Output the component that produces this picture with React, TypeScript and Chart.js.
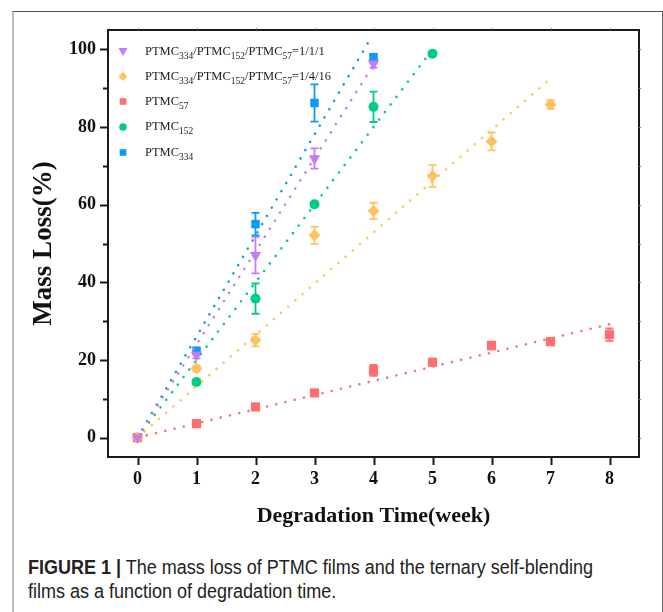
import React, { useEffect, useRef } from "react";
import { Chart, registerables } from "chart.js";

Chart.register(...registerables);

// ---------- data ----------
const weeks = [0, 1, 2, 3, 4, 5, 6, 7, 8];

const seriesNames = [
  "PTMC334/PTMC152/PTMC57=1/1/1",
  "PTMC334/PTMC152/PTMC57=1/4/16",
  "PTMC57",
  "PTMC152",
  "PTMC334",
];

const loss111 = [0, 21.3, 47.0, 71.9, 96.3];
const err111 = [0, 0.9, 4.7, 2.6, 1.0];

const loss1416 = [0, 17.8, 25.1, 52.1, 58.4, 67.4, 76.3, 85.8];
const err1416 = [0, 0.8, 1.6, 2.2, 2.1, 2.8, 2.3, 1.1];

const loss57 = [0, 3.6, 7.9, 11.5, 17.3, 19.4, 23.7, 24.7, 26.5];
const err57 = [0, 0.3, 0.5, 0.5, 1.4, 0.6, 1.0, 0.6, 1.6];

const loss152 = [0, 14.3, 35.8, 60.1, 85.2, 98.9];
const err152 = [0, 0.6, 3.9, 0.6, 3.9, 0.5];

const loss334 = [0, 22.4, 55.0, 86.2, 98.0];
const err334 = [0, 0.5, 2.9, 4.8, 0.7];

// dotted trend lines (start and end)
const fitStartX = [0, 0, 0, 0, 0];
const fitStartY = [0, 0, 0, 0, 0];
const fitEndX = [4, 7, 8, 5, 3.93];
const fitEndY = [96, 92.5, 29.2, 100, 102.3];

const xTicks = [0, 1, 2, 3, 4, 5, 6, 7, 8];
const yTicks = [0, 10, 20, 30, 40, 50, 60, 70, 80, 90, 100];
const yLabelTicks = [0, 20, 40, 60, 80, 100];

// ---------- styles ----------
const colors = ["#C57AF6", "#FFC25E", "#FF6F6F", "#00CC88", "#0A9BF5"];
const pointStyles = ["triangle", "rectRot", "rect", "circle", "rect"];
const pointRotations = [180, 0, 0, 0, 0];
const pointRadii = [6.5, 6, 6.5, 5, 6];

const SERIF = "'Liberation Serif', 'Times New Roman', serif";

const allLoss = [loss111, loss1416, loss57, loss152, loss334];
const allErr = [err111, err1416, err57, err152, err334];

function splitLabel(name: string): [string, boolean][] {
  const parts: [string, boolean][] = [];
  const re = /(PTMC)(\d+)/g;
  let last = 0;
  let m: RegExpExecArray | null;
  while ((m = re.exec(name)) !== null) {
    const before = name.slice(last, m.index) + m[1];
    parts.push([before, false]);
    parts.push([m[2], true]);
    last = m.index + m[0].length;
  }
  if (last < name.length) parts.push([name.slice(last), false]);
  return parts;
}

export default function App() {
  const ref = useRef<HTMLCanvasElement | null>(null);

  useEffect(() => {
    if (!ref.current) return;

    const fitSets = seriesNames.map((n, i) => ({
      label: n + " fit",
      data: [
        { x: fitStartX[i], y: fitStartY[i] },
        { x: fitEndX[i], y: fitEndY[i] },
      ],
      showLine: true,
      borderColor: colors[i],
      borderWidth: 2.6,
      borderDash: [0.01, 9.5],
      borderCapStyle: "round" as const,
      pointRadius: 0,
      fill: false,
    }));

    const pointSets = seriesNames.map((n, i) => ({
      label: n,
      data: allLoss[i].map((v, j) => ({ x: weeks[j], y: v })),
      errs: allErr[i],
      showLine: false,
      backgroundColor: colors[i],
      borderColor: colors[i],
      borderWidth: 0,
      pointStyle: pointStyles[i] as any,
      rotation: pointRotations[i],
      pointRadius: pointRadii[i],
    }));

    const errorBars = {
      id: "errorBars",
      beforeDatasetsDraw(chart: any) {
        const ctx = chart.ctx;
        const xs = chart.scales.x;
        const ys = chart.scales.y;
        ctx.save();
        chart.data.datasets.forEach((ds: any) => {
          if (!ds.errs) return;
          ctx.strokeStyle = ds.borderColor;
          ctx.lineWidth = 1.8;
          ds.data.forEach((p: any, j: number) => {
            const e = ds.errs[j];
            if (!e) return;
            const px = xs.getPixelForValue(p.x);
            const top = ys.getPixelForValue(p.y + e);
            const bot = ys.getPixelForValue(p.y - e);
            ctx.beginPath();
            ctx.moveTo(px, top);
            ctx.lineTo(px, bot);
            ctx.moveTo(px - 4, top);
            ctx.lineTo(px + 4, top);
            ctx.moveTo(px - 4, bot);
            ctx.lineTo(px + 4, bot);
            ctx.stroke();
          });
        });
        ctx.restore();
      },
    };

    const frame = {
      id: "frame",
      afterDraw(chart: any) {
        const ctx = chart.ctx;
        const a = chart.chartArea;
        const xs = chart.scales.x;
        const ys = chart.scales.y;
        ctx.save();
        ctx.strokeStyle = "#1a1a1a";
        ctx.lineWidth = 2;
        ctx.strokeRect(a.left, a.top, a.right - a.left, a.bottom - a.top);
        ctx.beginPath();
        yTicks.forEach((v) => {
          const py = Math.round(ys.getPixelForValue(v)) + 0.5;
          const len = v % 20 === 0 ? 8 : 5;
          ctx.moveTo(a.left - len, py);
          ctx.lineTo(a.left, py);
        });
        xTicks.forEach((v) => {
          const px = Math.round(xs.getPixelForValue(v)) + 0.5;
          ctx.moveTo(px, a.bottom);
          ctx.lineTo(px, a.bottom + 8);
        });
        ctx.stroke();
        // faint ticks on top and right edges
        ctx.strokeStyle = "#777";
        ctx.lineWidth = 1;
        ctx.beginPath();
        yTicks.forEach((v) => {
          const py = Math.round(ys.getPixelForValue(v)) + 0.5;
          ctx.moveTo(a.right, py);
          ctx.lineTo(a.right + 2, py);
        });
        xTicks.forEach((v) => {
          const px = Math.round(xs.getPixelForValue(v)) + 0.5;
          ctx.moveTo(px, a.top);
          ctx.lineTo(px, a.top - 2);
        });
        ctx.stroke();
        ctx.restore();
      },
    };

    const legendPlugin = {
      id: "innerLegend",
      afterDraw(chart: any) {
        const ctx = chart.ctx;
        const a = chart.chartArea;
        const mx = a.left + 15;
        const tx = a.left + 37;
        const rowY = [52, 76.5, 101.5, 127, 152.5];
        ctx.save();
        seriesNames.forEach((name, i) => {
          const y = rowY[i];
          ctx.fillStyle = colors[i];
          ctx.beginPath();
          const st = pointStyles[i];
          if (st === "triangle") {
            ctx.moveTo(mx - 4.5, y - 4);
            ctx.lineTo(mx + 4.5, y - 4);
            ctx.lineTo(mx, y + 4);
            ctx.closePath();
          } else if (st === "rectRot") {
            ctx.moveTo(mx, y - 4.5);
            ctx.lineTo(mx + 4.5, y);
            ctx.lineTo(mx, y + 4.5);
            ctx.lineTo(mx - 4.5, y);
            ctx.closePath();
          } else if (st === "circle") {
            ctx.arc(mx, y, 3.8, 0, Math.PI * 2);
          } else {
            ctx.rect(mx - 3.3, y - 3.3, 6.6, 6.6);
          }
          ctx.fill();

          ctx.fillStyle = "#222";
          ctx.textBaseline = "middle";
          ctx.textAlign = "left";
          let x = tx;
          splitLabel(name).forEach(([txt, sub]) => {
            if (sub) {
              ctx.font = `9.5px ${SERIF}`;
              ctx.fillText(txt, x, y + 4.5);
            } else {
              ctx.font = `12.5px ${SERIF}`;
              ctx.fillText(txt, x, y);
            }
            x += ctx.measureText(txt).width;
          });
        });
        ctx.restore();
      },
    };

    const chart = new Chart(ref.current, {
      type: "scatter",
      data: { datasets: [...fitSets, ...pointSets] as any },
      options: {
        animation: false,
        responsive: false,
        layout: { padding: { left: 0, top: 30, right: 24, bottom: 0 } },
        plugins: {
          legend: { display: false },
          tooltip: { enabled: false },
        },
        scales: {
          x: {
            type: "linear",
            min: -0.5,
            max: 8.5,
            afterBuildTicks: (s: any) => {
              s.ticks = xTicks.map((v) => ({ value: v }));
            },
            afterFit: (s: any) => {
              s.height = 83;
            },
            grid: {
              drawOnChartArea: false,
              drawTicks: true,
              tickLength: 8,
              tickColor: "transparent",
            },
            border: { display: false },
            ticks: {
              padding: 4,
              color: "#111",
              autoSkip: false,
              maxRotation: 0,
              font: { family: SERIF, size: 18, weight: "bold" },
              callback: (v: any) => String(v),
            },
            title: {
              display: true,
              text: "Degradation Time(week)",
              color: "#111",
              font: { family: SERIF, size: 22, weight: "bold" },
              padding: { top: 0, bottom: 10 },
            },
          },
          y: {
            type: "linear",
            min: -5,
            max: 105,
            afterBuildTicks: (s: any) => {
              s.ticks = yTicks.map((v) => ({ value: v }));
            },
            afterFit: (s: any) => {
              s.width = 108;
            },
            grid: {
              drawOnChartArea: false,
              drawTicks: true,
              tickLength: 8,
              tickColor: "transparent",
            },
            border: { display: false },
            ticks: {
              padding: 4,
              color: "#111",
              autoSkip: false,
              font: { family: SERIF, size: 18, weight: "bold" },
              callback: (v: any) =>
                yLabelTicks.includes(Number(v)) ? String(v) : "",
            },
            title: {
              display: true,
              text: "Mass Loss(%)",
              color: "#111",
              font: { family: SERIF, size: 27, weight: "bold" },
              padding: { top: 28, bottom: 0 },
            },
          },
        },
      },
      plugins: [errorBars, frame, legendPlugin],
    });

    return () => chart.destroy();
  }, []);

  return (
    <div
      style={{
        position: "absolute",
        left: 0,
        top: 0,
        width: 663,
        height: 612,
        background: "#fff",
        overflow: "hidden",
      }}
    >
      <div
        style={{
          position: "absolute",
          left: 12,
          top: 11,
          width: 648,
          height: 640,
          borderTop: "1.5px solid #555",
          borderRight: "1.5px solid #666",
          borderLeft: "2px solid #bbb",
        }}
      />
      <canvas
        ref={ref}
        width={663}
        height={540}
        style={{ position: "absolute", left: 0, top: 0, width: 663, height: 540 }}
      />
      <div
        style={{
          position: "absolute",
          left: 28,
          top: 555,
          width: 700,
          whiteSpace: "nowrap",
          transform: "scaleX(0.9)",
          transformOrigin: "0 0",
          fontFamily: "'Liberation Sans', Arial, sans-serif",
          fontSize: 20,
          lineHeight: "24px",
          color: "#222",
        }}
      >
        <b>FIGURE 1 |</b> The mass loss of PTMC films and the ternary self-blending
        <br />
        films as a function of degradation time.
      </div>
    </div>
  );
}
